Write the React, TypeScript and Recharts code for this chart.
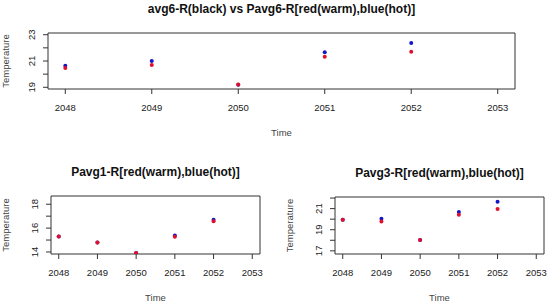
import React from "react"
import { ScatterChart, Scatter, XAxis, YAxis, ReferenceArea } from "recharts"

const years = [2048, 2049, 2050, 2051, 2052]
const xTicks = [2048, 2049, 2050, 2051, 2052, 2053]

// avg6 panel
const avg6Warm = [20.47, 20.7, 19.22, 21.33, 21.7]
const avg6Hot = [20.63, 21.0, 19.2, 21.66, 22.37]
const avg6Ticks = [19, 20, 21, 22, 23]
const avg6Labels = [19, 21, 23]

// avg1 panel
const avg1Warm = [15.3, 14.79, 13.92, 15.27, 16.58]
const avg1Hot = [15.3, 14.79, 13.92, 15.38, 16.69]
const avg1Ticks = [14, 15, 16, 17, 18]
const avg1Labels = [14, 16, 18]

// avg3 panel
const avg3Warm = [19.94, 19.79, 18.02, 20.43, 20.97]
const avg3Hot = [19.94, 20.05, 18.02, 20.69, 21.64]
const avg3Ticks = [17, 18, 19, 20, 21, 22]
const avg3Labels = [17, 19, 21]

const X_DOMAIN: [number, number] = [2047.8, 2053.2]
const FONT = "'Liberation Sans', Arial, sans-serif"
const RED = "#e0102c"
const BLUE = "#1414c8"
const INK = "#333"

const toPts = (vals: number[]) => years.map((x, i) => ({ x, y: vals[i] }))

function Dot(color: string) {
  return (p: any) => <circle cx={p.cx} cy={p.cy} r={2} fill={color} />
}

function YTick({ x, y, payload, labels }: any) {
  if (!labels.includes(payload.value)) return null
  return (
    <text x={x} y={y} transform={`rotate(-90, ${x}, ${y})`} textAnchor="middle" fontSize={9.5} fill="#222" fontFamily={FONT}>
      {payload.value}
    </text>
  )
}

function YLab({ viewBox, shift }: any) {
  const x = viewBox.x + viewBox.width - shift
  const y = viewBox.y + viewBox.height / 2
  return (
    <text x={x} y={y} transform={`rotate(-90, ${x}, ${y})`} textAnchor="middle" fontSize={9.5} fill="#444" fontFamily={FONT}>
      Temperature
    </text>
  )
}

function Panel({ left, top, width, height, margin, yWidth, yDomain, yTicks, yLabels, warm, hot, title, labelShift }: any) {
  const plotLeft = margin.left + yWidth
  const plotRight = width - margin.right
  return (
    <div style={{ position: "absolute", left, top, width, height }}>
      <div
        style={{
          position: "absolute",
          left: plotLeft,
          width: plotRight - plotLeft,
          top: margin.top - 31,
          textAlign: "center",
          fontFamily: FONT,
          fontWeight: "bold",
          fontSize: 12,
          color: "#111",
          whiteSpace: "nowrap",
        }}
      >
        {title}
      </div>
      <ScatterChart width={width} height={height} margin={margin}>
        <XAxis
          type="number"
          dataKey="x"
          domain={X_DOMAIN}
          ticks={xTicks}
          interval={0}
          allowDataOverflow
          axisLine={false}
          tickLine={{ stroke: INK }}
          tickSize={5}
          tickMargin={10}
          height={47}
          tick={{ fontSize: 9.5, fill: "#222", fontFamily: FONT }}
          label={{ value: "Time", position: "insideBottom", offset: 0, fontSize: 9.5, fill: "#444", fontFamily: FONT }}
        />
        <YAxis
          type="number"
          dataKey="y"
          domain={yDomain}
          ticks={yTicks}
          interval={0}
          allowDataOverflow
          axisLine={false}
          tickLine={{ stroke: INK }}
          tickSize={5}
          tickMargin={8}
          width={yWidth}
          tick={<YTick labels={yLabels} />}
          label={<YLab shift={labelShift} />}
        />
        <ReferenceArea x1={X_DOMAIN[0]} x2={X_DOMAIN[1]} y1={yDomain[0]} y2={yDomain[1]} fill="none" fillOpacity={0} stroke={INK} strokeOpacity={1} strokeWidth={1} />
        <Scatter data={toPts(hot)} shape={Dot(BLUE)} isAnimationActive={false} />
        <Scatter data={toPts(warm)} shape={Dot(RED)} isAnimationActive={false} />
      </ScatterChart>
    </div>
  )
}

export default function App() {
  return (
    <div style={{ position: "absolute", left: 0, top: 0, width: 550, height: 305, background: "#fff" }}>
      <Panel
        left={0}
        top={0}
        width={550}
        height={150}
        margin={{ top: 33, right: 35, bottom: 14, left: 0 }}
        yWidth={48}
        yDomain={[18.87, 23.13]}
        yTicks={avg6Ticks}
        yLabels={avg6Labels}
        warm={avg6Warm}
        hot={avg6Hot}
        labelShift={39}
        title="avg6-R(black) vs Pavg6-R[red(warm),blue(hot)]"
      />
      <Panel
        left={0}
        top={150}
        width={275}
        height={155}
        margin={{ top: 46, right: 15, bottom: 4, left: 1 }}
        yWidth={50}
        yDomain={[13.83, 18.69]}
        yTicks={avg1Ticks}
        yLabels={avg1Labels}
        warm={avg1Warm}
        hot={avg1Hot}
        labelShift={42}
        title="Pavg1-R[red(warm),blue(hot)]"
      />
      <Panel
        left={275}
        top={150}
        width={275}
        height={155}
        margin={{ top: 47, right: 6, bottom: 4, left: 0 }}
        yWidth={60}
        yDomain={[16.7, 22.1]}
        yTicks={avg3Ticks}
        yLabels={avg3Labels}
        warm={avg3Warm}
        hot={avg3Hot}
        labelShift={42}
        title="Pavg3-R[red(warm),blue(hot)]"
      />
    </div>
  )
}
